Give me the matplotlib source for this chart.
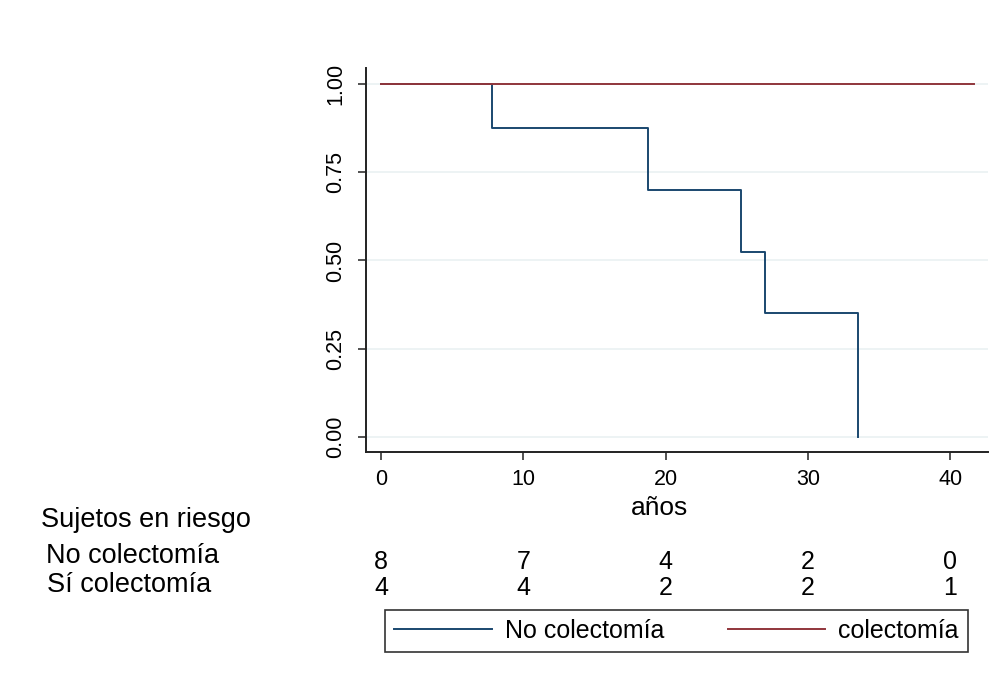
import matplotlib
matplotlib.use('Agg')
import matplotlib.pyplot as plt
from matplotlib.lines import Line2D

# Kaplan-Meier steps
t_no = [0, 7.8, 18.8, 25.3, 27.0, 33.5]
s_no = [1.0, 0.875, 0.70, 0.525, 0.35, 0.0]
t_si = [0, 41.7]
s_si = [1.0, 1.0]

xticks = [0, 10, 20, 30, 40]
yticks = [0.0, 0.25, 0.50, 0.75, 1.00]
risk_groups = ['No colectomía', 'Sí colectomía']
risk_no = [8, 7, 4, 2, 0]
risk_si = [4, 4, 2, 2, 1]
legend_labels = ['No colectomía', 'colectomía']

blue = '#1a476f'
red = '#90353b'
W, H = 998, 677

plt.rcParams['font.family'] = ['Liberation Sans', 'DejaVu Sans']

fig = plt.figure(figsize=(W / 100, H / 100), dpi=100)
ax = fig.add_axes([366 / W, 1 - 452 / H, (988 - 366) / W, (452 - 68) / H])

ax.step(t_no, s_no, where='post', color=blue, lw=1.4)
ax.plot(t_si, s_si, color=red, lw=1.4)

ax.set_xlim(-1.05, 42.66)
ax.set_ylim(-0.0425, 1.045)
ax.set_xticks(xticks)
ax.set_yticks(yticks)
ax.set_yticklabels(['%.2f' % v for v in yticks], rotation=90, va='center')
ax.tick_params(axis='both', labelsize=15.5, length=6, width=1.2, color='#333333')
ax.tick_params(axis='x', pad=6)
ax.tick_params(axis='y', pad=8)
ax.grid(axis='y', color='#eaf1f2', lw=1.2)
ax.set_axisbelow(True)
for s in ['top', 'right']:
    ax.spines[s].set_visible(False)
for s in ['left', 'bottom']:
    ax.spines[s].set_linewidth(1.4)
    ax.spines[s].set_color('#222222')

trans = ax.get_xaxis_transform()


def fy(py):
    # pixel row -> axes fraction
    return 1 - (py - 68) / (452 - 68)


ax.text(19.6, fy(508), 'años', transform=trans, ha='center', va='center', fontsize=19)

# risk table
fig.text(41 / W, 1 - 520 / H, 'Sujetos en riesgo', fontsize=19.5, va='center', ha='left')
fig.text(46 / W, 1 - 556 / H, risk_groups[0], fontsize=19.5, va='center', ha='left')
fig.text(47 / W, 1 - 585 / H, risk_groups[1], fontsize=19.5, va='center', ha='left')
for x, a, b in zip(xticks, risk_no, risk_si):
    ax.text(x, fy(562), str(a), transform=trans, ha='center', va='center',
            fontsize=18, clip_on=False)
    ax.text(x, fy(588), str(b), transform=trans, ha='center', va='center',
            fontsize=18, clip_on=False)

handles = [Line2D([], [], color=blue, lw=1.4), Line2D([], [], color=red, lw=1.4)]
leg = fig.legend(handles, legend_labels, loc='center', ncol=2,
                 bbox_to_anchor=(676.5 / W, 1 - 631 / H),
                 fontsize=18, handlelength=3.9, handletextpad=0.52,
                 columnspacing=2.55, borderpad=0.35, borderaxespad=0,
                 fancybox=False, frameon=True)
leg.get_frame().set_edgecolor('black')
leg.get_frame().set_linewidth(1.2)

fig.savefig('out.png', dpi=100)
